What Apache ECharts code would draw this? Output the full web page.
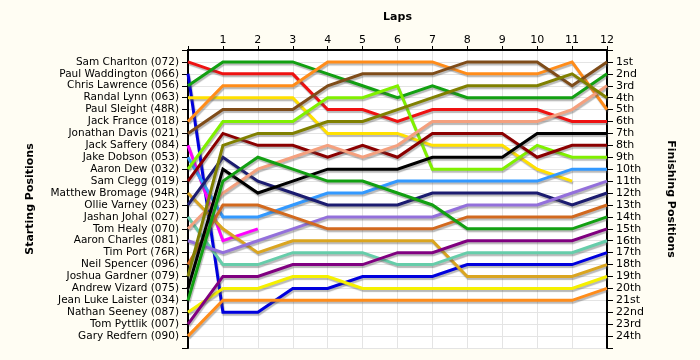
<!DOCTYPE html>
<html><head><meta charset="utf-8">
<script src="https://cdn.jsdelivr.net/npm/echarts@6/dist/echarts.min.js"></script>
<style>html,body{margin:0;padding:0;background:#fffdf3;}#c{width:700px;height:360px;}</style>
</head><body><div id="c"></div>
<script>
const laps = [0,1,2,3,4,5,6,7,8,9,10,11,12];
const startNames = ['Sam Charlton (072)','Paul Waddington (066)','Chris Lawrence (056)','Randal Lynn (063)','Paul Sleight (48R)','Jack France (018)','Jonathan Davis (021)','Jack Saffery (084)','Jake Dobson (053)','Aaron Dew (032)','Sam Clegg (019)','Matthew Bromage (94R)','Ollie Varney (023)','Jashan Johal (027)','Tom Healy (070)','Aaron Charles (081)','Tim Port (76R)','Neil Spencer (096)','Joshua Gardner (079)','Andrew Vizard (075)','Jean Luke Laister (034)','Nathan Seeney (087)','Tom Pyttlik (007)','Gary Redfern (090)'];
const finishLabels = ['1st','2nd','3rd','4th','5th','6th','7th','8th','9th','10th','11th','12th','13th','14th','15th','16th','17th','18th','19th','20th','21st','22nd','23rd','24th'];

// positions per lap (lap 0 = start)
const samCharlton     = [1,2,2,2,5,5,6,5,5,5,5,6,6];
const paulWaddington  = [2,22,22,20,20,19,19,19,18,18,18,18,17];
const chrisLawrence   = [3,1,1,1,2,3,4,3,4,4,4,4,2];
const randalLynn      = [4,4,4,4,7,7,7,8,8,8,10,11];
const paulSleight     = [];
const jackFrance      = [6,3,3,3,1,1,1,1,2,2,2,1,5];
const jonathanDavis   = [7,5,5,5,3,2,2,2,1,1,1,3,1];
const jackSaffery     = [8,16,15];
const jakeDobson      = [9,14,14,13,12,12,11,11,11,11,11,10,10];
const aaronDew        = [10,6,6,6,4,4,3,10,10,10,8,9,9];
const samClegg        = [11,7,8,8,9,8,9,7,7,7,9,8,8];
const matthewBromage  = [12,15,17,16,16,16,16,16,19,19,19,19,18];
const ollieVarney     = [13,9,11,12,13,13,13,12,12,12,12,13,12];
const jashanJohal     = [14,18,18,17,17,17,18,18,17,17,17,17,16];
const tomHealy        = [15,12,10,9,8,9,8,6,6,6,6,5,3];
const aaronCharles    = [16,17,16,15,14,14,14,14,13,13,13,12,11];
const timPort         = [];
const neilSpencer     = [18,13,13,14,15,15,15,15,14,14,14,14,13];
const joshuaGardner   = [19,8,7,7,6,6,5,4,3,3,3,2,4];
const andrewVizard    = [20,10,12,11,10,10,10,9,9,9,7,7,7];
const jeanLukeLaister = [21,11,9,10,11,11,12,13,15,15,15,15,14];
const nathanSeeney    = [22,20,20,19,19,20,20,20,20,20,20,20,19];
const tomPyttlik      = [23,19,19,18,18,18,17,17,16,16,16,16,15];
const garyRedfern     = [24,21,21,21,21,21,21,21,21,21,21,21,20];

const driverData = [samCharlton,paulWaddington,chrisLawrence,randalLynn,paulSleight,jackFrance,jonathanDavis,jackSaffery,jakeDobson,aaronDew,samClegg,matthewBromage,ollieVarney,jashanJohal,tomHealy,aaronCharles,timPort,neilSpencer,joshuaGardner,andrewVizard,jeanLukeLaister,nathanSeeney,tomPyttlik,garyRedfern];
const colors = ['#ee1111','#0000dd','#12a012','#ffe000','#888888','#ff8c1a','#7f4c19','#ff00ff','#3399ff','#80f000','#8b0000','#daa520','#1c1c70','#66cdaa','#f4a07e','#9370db','#888888','#d2691e','#808000','#000000','#12a012','#f5f000','#800080','#ff8c1a'];

const font = 'DejaVu Sans';
const series = driverData.map((arr, i) => ({
  name: startNames[i],
  type: 'line',
  data: arr.map((v, k) => [laps[k], v]),
  showSymbol: false,
  symbol: 'none',
  animation: false,
  lineStyle: {color: colors[i], width: 3, shadowColor: 'rgba(80,80,80,0.4)', shadowBlur: 1, shadowOffsetX: 1, shadowOffsetY: 2, join: 'miter'},
  z: 2
}));

const chart = echarts.init(document.getElementById('c'), null, {renderer: 'canvas'});
chart.setOption({
  backgroundColor: '#fffdf3',
  animation: false,
  grid: {left: 188, right: 93, top: 50, bottom: 12, show: true, backgroundColor: '#ffffff', borderWidth: 0},
  xAxis: {
    type: 'value', position: 'top', min: 0, max: 12, interval: 1,
    name: 'Laps', nameLocation: 'middle', nameGap: 27,
    nameTextStyle: {fontFamily: font, fontSize: 11, fontWeight: 'bold', color: '#000'},
    axisLine: {show: true, lineStyle: {color: '#000', width: 2}},
    axisTick: {show: true, length: 4, lineStyle: {color: '#000'}},
    axisLabel: {fontFamily: font, fontSize: 11, color: '#000', margin: 4, formatter: v => v === 0 ? '' : String(v)},
    splitLine: {show: true, lineStyle: {color: '#e4e4e4', width: 1}}
  },
  yAxis: [{
    type: 'value', inverse: true, min: 0, max: 25, interval: 1, position: 'left',
    name: 'Starting Positions', nameLocation: 'middle', nameGap: 152, nameRotate: 90,
    nameTextStyle: {fontFamily: font, fontSize: 11, fontWeight: 'bold', color: '#000'},
    axisLine: {show: true, lineStyle: {color: '#000', width: 2}},
    axisTick: {show: true, length: 6, lineStyle: {color: '#000'}},
    axisLabel: {fontFamily: font, fontSize: 10.5, color: '#000', margin: 9, formatter: v => startNames[v - 1] || ''},
    splitLine: {show: true, lineStyle: {color: '#e4e4e4', width: 1}}
  }, {
    type: 'value', inverse: true, min: 0, max: 25, interval: 1, position: 'right',
    name: 'Finishing Positions', nameLocation: 'middle', nameGap: 58, nameRotate: -90,
    nameTextStyle: {fontFamily: font, fontSize: 11, fontWeight: 'bold', color: '#000'},
    axisLine: {show: true, lineStyle: {color: '#000', width: 2}},
    axisTick: {show: true, length: 6, lineStyle: {color: '#000'}},
    axisLabel: {fontFamily: font, fontSize: 11, color: '#000', margin: 9, formatter: v => finishLabels[v - 1] || ''},
    splitLine: {show: false}
  }],
  series: series
});
</script></body></html>
